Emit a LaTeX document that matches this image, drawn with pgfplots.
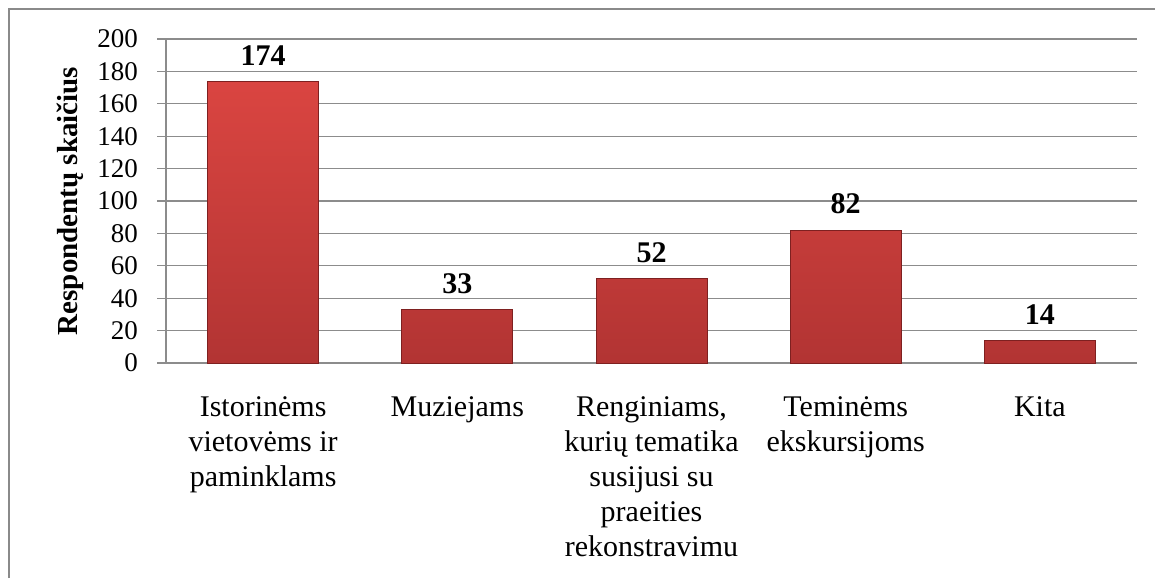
\documentclass[border=0pt]{standalone}
\usepackage{fontspec}
\setmainfont{Liberation Serif}
\usepackage{pgfplots}
\pgfplotsset{compat=1.18}
\definecolor{gridgray}{HTML}{8C8C8C}
\definecolor{framegray}{HTML}{8A8A8A}
\definecolor{bartop}{HTML}{DA4541}
\definecolor{barbot}{HTML}{B23433}
\definecolor{baredge}{HTML}{7E2020}
\begin{document}
\begin{tikzpicture}
\path[use as bounding box] (0,0) rectangle (577.5pt,289pt);
\draw[framegray, line width=1pt] (4.5pt,0) -- (4.5pt,284.5pt) -- (577.5pt,284.5pt);
\begin{axis}[
  at={(83pt,107.5pt)}, anchor=south west,
  scale only axis, width=485.5pt, height=162pt,
  xmin=-0.5, xmax=4.5, ymin=0, ymax=200,
  ytick={0,20,...,200},
  xtick={0,1,2,3,4},
  xticklabels={{Istorinėms\\vietovėms ir\\paminklams},{Muziejams},{Renginiams,\\kurių tematika\\susijusi su\\praeities\\rekonstravimu},{Teminėms\\ekskursijoms},{Kita}},
  axis x line*=bottom, axis y line*=left,
  axis line style={-, gridgray, line width=0.6pt},
  ymajorgrids, major grid style={gridgray, line width=0.6pt},
  ytick pos=left, tick align=outside, major tick length=4.5pt,
  xtick style={draw=none},
  ytick style={gridgray, line width=0.6pt},
  /pgf/number format/assume math mode=true,
  yticklabel style={font=\fontsize{13.5}{16}\selectfont, xshift=-6pt},
  xticklabel style={font=\fontsize{15}{17.5}\selectfont, align=center, anchor=north, yshift=-9pt},
  ylabel={Respondentų skaičius},
  ylabel style={at={(axis description cs:-0.0989,0.5)}, anchor=center, font=\bfseries\fontsize{14.5}{17}\selectfont},
  nodes near coords,
  every node near coord/.append style={font=\bfseries\fontsize{15}{18}\selectfont, text=black, yshift=4.5pt},
]
\addplot[ybar, bar width=55.5pt, draw=baredge, line width=0.4pt, top color=bartop, bottom color=barbot]
  coordinates {(0,174) (1,33) (2,52) (3,82) (4,14)};
\end{axis}
\end{tikzpicture}
\end{document}
